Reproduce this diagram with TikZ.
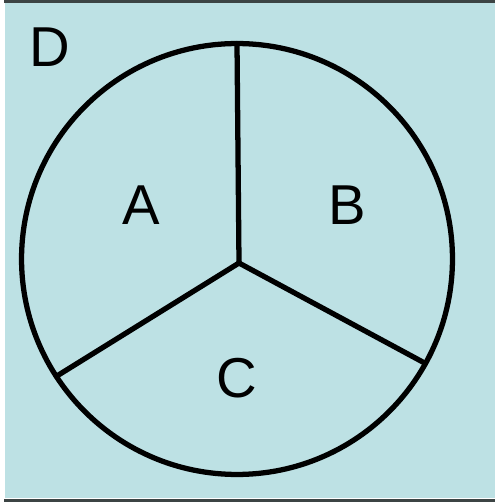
\documentclass[tikz,border=0pt]{standalone}
\usepackage{fontspec}
\setmainfont{Liberation Sans}
\definecolor{paneblue}{RGB}{189,225,228}
\definecolor{rulegray}{RGB}{60,68,68}
\begin{document}
\begin{tikzpicture}[
  x=0.02cm, y=-0.02cm,
  rimline/.style={draw=black, line width=3pt},
  spoke/.style={draw=black, line width=3pt, line cap=round},
  partlabel/.style={font=\fontsize{32}{32}\selectfont, inner sep=0pt}
]
\useasboundingbox (0,0) rectangle (499,502);

% Background pane
\fill[paneblue] (5,3) rectangle (495,498);
\coordinate (tl) at (4,1.5);
\coordinate (tr) at (495,1.5);
\coordinate (bl) at (4,500.5);
\coordinate (br) at (495,500.5);
\draw[rulegray, line width=1.4pt] (tl) -- (tr);
\draw[rulegray, line width=1.4pt] (bl) -- (br);

% Circle and spokes
\node[circle, rimline, minimum size=8.62cm, inner sep=0pt, outer sep=0pt] (rim) at (237,259) {};
\coordinate (hub) at (239,263);
\draw[spoke] (hub) -- (rim.90);
\draw[spoke] (hub) -- (rim.-29);
\draw[spoke] (hub) -- (rim.213);

% Labels
\node[partlabel] (lblA) at (141,205) {A};
\node[partlabel] (lblB) at (347,205) {B};
\node[partlabel] (lblC) at (237,378) {C};
\node[partlabel] (lblD) at (50,47) {D};

\end{tikzpicture}
\end{document}
